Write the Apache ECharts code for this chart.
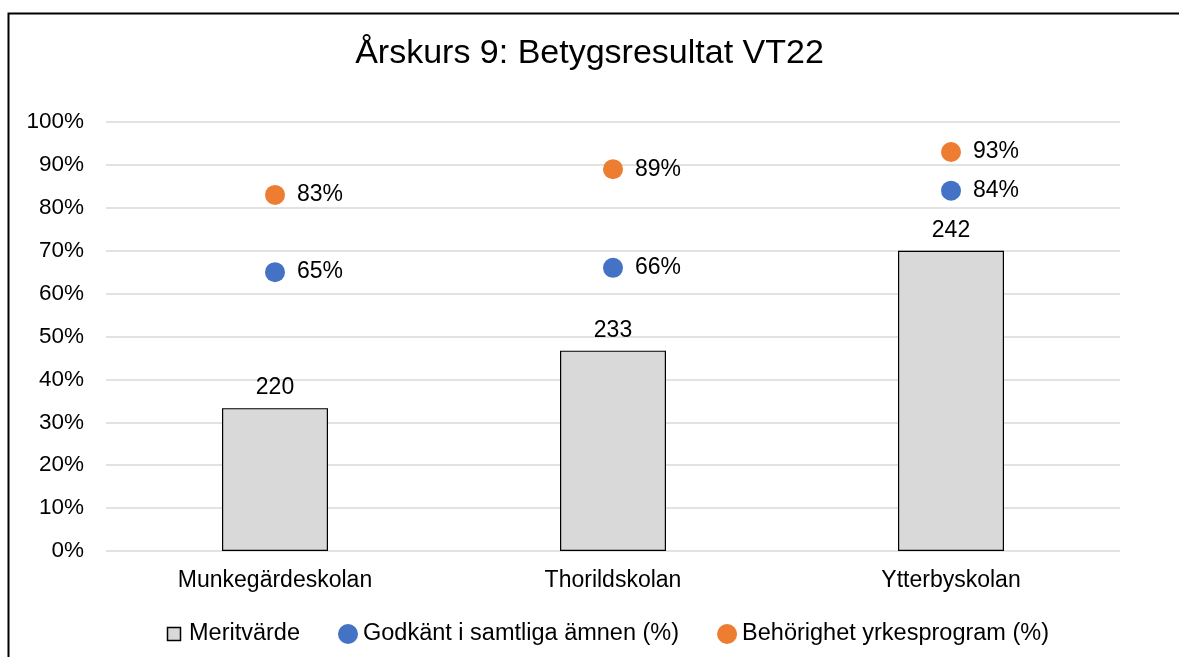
<!DOCTYPE html>
<html lang="sv">
<head>
    <meta charset="UTF-8">
    <title>Årskurs 9: Betygsresultat VT22</title>
    <script src="https://cdn.jsdelivr.net/npm/echarts@6/dist/echarts.min.js"></script>
    <style>
        html, body { margin: 0; padding: 0; background: #fff; }
        #main { width: 1179px; height: 657px; }
    </style>
</head>
<body>
    <div id="main"></div>

    <script type="text/javascript">
        // skolor
        var schools = ['Munkegärdeskolan', 'Thorildskolan', 'Ytterbyskolan'];
        // meritvärde: etikett och stapelhöjd (läst i procentskalan)
        var meritLabels = [220, 233, 242];
        var meritHeights = [33.3, 46.7, 70];
        // procent
        var godkant = [65, 66, 84];
        var behorighet = [83, 89, 93];
        var yTicks = [0, 10, 20, 30, 40, 50, 60, 70, 80, 90, 100];

        var fontFam = 'Liberation Sans, Arial, sans-serif';
        // liten ruta med svart kant för legenden
        var squareIcon = 'image://data:image/svg+xml;utf8,' + encodeURIComponent(
            '<svg xmlns="http://www.w3.org/2000/svg" width="20" height="20" viewBox="0 0 20 20">' +
            '<rect x="3.5" y="3.5" width="13" height="13" fill="#d9d9d9" stroke="#000" stroke-width="1.5"/></svg>');

        var myChart = echarts.init(document.getElementById('main'));
        var option = {
            backgroundColor: '#fff',
            animation: false,
            textStyle: { fontFamily: fontFam, color: '#000' },
            title: {
                text: 'Årskurs 9: Betygsresultat VT22',
                left: 'center',
                top: 32,
                textStyle: { fontSize: 34, fontWeight: 'normal', color: '#000', fontFamily: fontFam }
            },
            graphic: [{
                type: 'rect',
                shape: { x: 8.5, y: 13.5, width: 1185, height: 660 },
                style: { fill: null, stroke: '#000', lineWidth: 2 },
                silent: true
            }],
            legend: {
                top: 617,
                left: 159,
                itemWidth: 20,
                itemHeight: 20,
                itemGap: 38,
                textStyle: { fontSize: 23.5, color: '#000', fontFamily: fontFam },
                data: [
                    { name: 'Meritvärde', icon: squareIcon },
                    { name: 'Godkänt i samtliga ämnen (%)', icon: 'circle' },
                    { name: 'Behörighet yrkesprogram (%)', icon: 'circle' }
                ]
            },
            grid: { left: 106, right: 59, top: 122, bottom: 106, containLabel: false },
            xAxis: {
                type: 'category',
                data: schools,
                axisLine: { show: false },
                axisTick: { show: false },
                axisLabel: { fontSize: 23, color: '#000', margin: 18 }
            },
            yAxis: {
                type: 'value',
                min: 0,
                max: 100,
                interval: 10,
                axisLine: { show: false },
                axisTick: { show: false },
                axisLabel: { fontSize: 22.5, color: '#000', margin: 22, formatter: '{value}%' },
                splitLine: { lineStyle: { color: '#d9d9d9', width: 1.5 } }
            },
            series: [
                {
                    name: 'Meritvärde',
                    type: 'bar',
                    barWidth: 106,
                    data: meritHeights,
                    itemStyle: { color: '#d9d9d9', borderColor: '#000', borderWidth: 1.2 },
                    label: {
                        show: true,
                        position: 'top',
                        distance: 9,
                        fontSize: 23,
                        color: '#000',
                        formatter: function (p) { return meritLabels[p.dataIndex]; }
                    }
                },
                {
                    name: 'Godkänt i samtliga ämnen (%)',
                    type: 'scatter',
                    symbol: 'circle',
                    symbolSize: 20,
                    data: godkant,
                    itemStyle: { color: '#4472c4', opacity: 1 },
                    label: { show: true, position: 'right', distance: 12, fontSize: 23, color: '#000', formatter: '{c}%' }
                },
                {
                    name: 'Behörighet yrkesprogram (%)',
                    type: 'scatter',
                    symbol: 'circle',
                    symbolSize: 20,
                    data: behorighet,
                    itemStyle: { color: '#ed7d31', opacity: 1 },
                    label: { show: true, position: 'right', distance: 12, fontSize: 23, color: '#000', formatter: '{c}%' }
                }
            ]
        };
        myChart.setOption(option);
    </script>
</body>
</html>
